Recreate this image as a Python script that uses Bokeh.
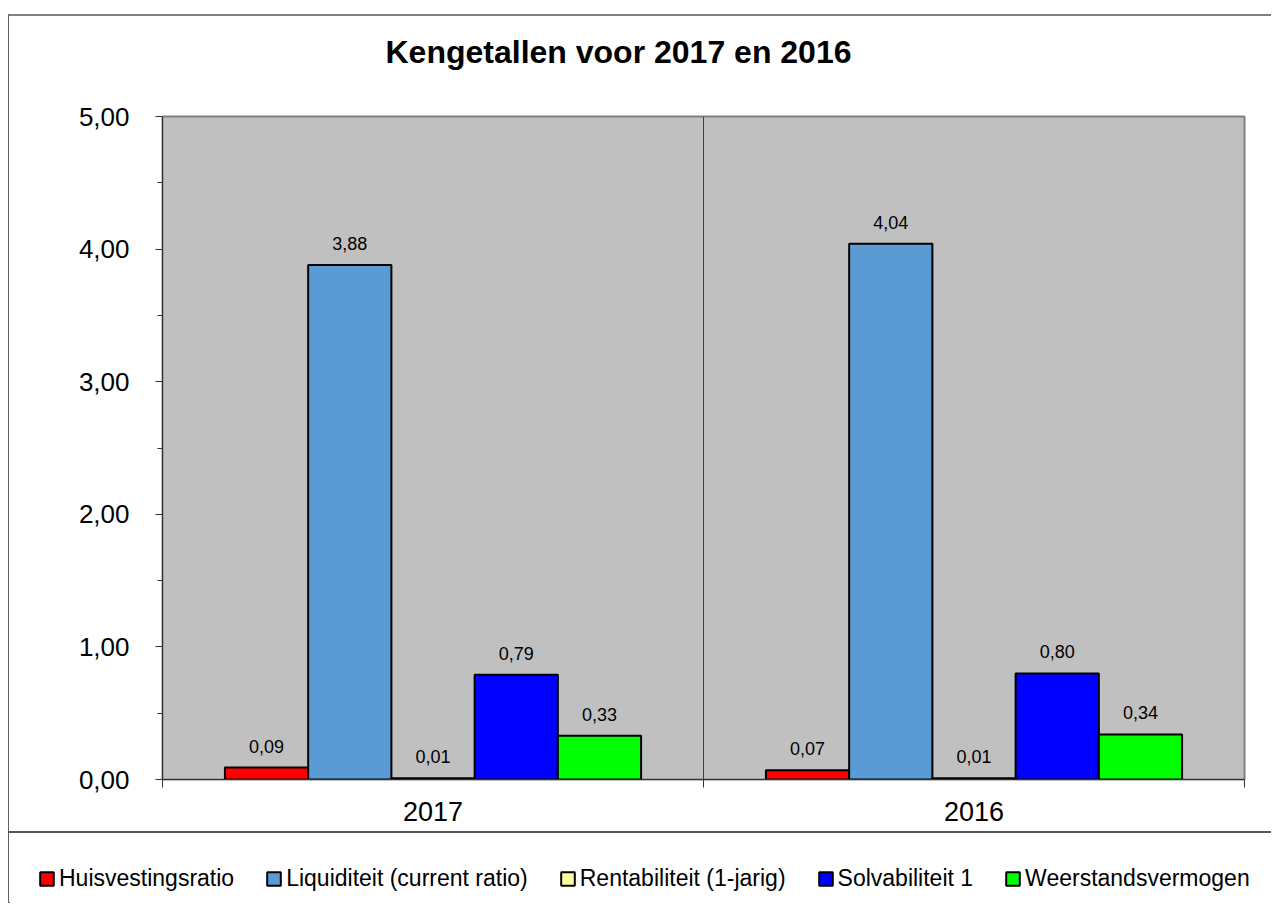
from bokeh.plotting import figure
from bokeh.models import Range1d, FixedTicker, Span, Legend, LegendItem, ColumnDataSource, Title
from bokeh.embed import file_html
from bokeh.resources import INLINE
from bokeh.core.properties import value

# ---- data ----
years = ["2017", "2016"]
series = ["Huisvestingsratio", "Liquiditeit (current ratio)", "Rentabiliteit (1-jarig)",
          "Solvabiliteit 1", "Weerstandsvermogen"]
colors = ["#FF0000", "#5B9BD5", "#FFFF99", "#0000FF", "#00FF00"]
huisvesting = [0.09, 0.07]
liquiditeit = [3.88, 4.04]
rentabiliteit = [0.01, 0.01]
solvabiliteit = [0.79, 0.80]
weerstand = [0.33, 0.34]
y_ticks = [0, 1, 2, 3, 4, 5]
y_tick_labels = ["0,00", "1,00", "2,00", "3,00", "4,00", "5,00"]
title_text = "Kengetallen voor 2017 en 2016"

values = [huisvesting, liquiditeit, rentabiliteit, solvabiliteit, weerstand]

FONT = "Liberation Sans"
n = len(series)
bw = 1.0 / (n + 1.5)
gap = 0.75 * bw

p = figure(width=1263, height=819, x_range=Range1d(0, len(years)), y_range=Range1d(0, 5),
           output_backend="svg", toolbar_location=None, title=None,
           min_border_left=153, min_border_right=28, min_border_top=100, min_border_bottom=56,
           background_fill_color="#C0C0C0", border_fill_color="white",
           outline_line_color="#808080", outline_line_width=2)
p.margin = (14, 0, 0, 8)
p.xgrid.visible = False
p.ygrid.visible = False

# spacer between frame and title, then the title itself
p.add_layout(Title(text=" ", text_font=FONT, text_font_size="20px", standoff=22), "above")
p.add_layout(Title(text=title_text, text_font=FONT, text_font_size="32px",
                   text_font_style="bold", text_color="black", align="left",
                   offset=223, standoff=2), "above")

# x axis: labels at category centres, ticks at boundaries
centres = [i + 0.5 for i in range(len(years))]
bounds = [i for i in range(len(years) + 1)]
p.xaxis.ticker = FixedTicker(ticks=centres, minor_ticks=bounds)
p.xaxis.major_label_overrides = {c: y for c, y in zip(centres, years)}
p.xaxis.major_tick_out = 0
p.xaxis.major_tick_in = 0
p.xaxis.minor_tick_out = 8
p.xaxis.minor_tick_in = 0
p.xaxis.minor_tick_line_color = "#333333"
p.xaxis.axis_line_color = "#333333"
p.xaxis.major_label_text_font = FONT
p.xaxis.major_label_text_font_size = "27px"
p.xaxis.major_label_text_color = "black"
p.xaxis.major_label_standoff = 14

# y axis
p.yaxis.ticker = FixedTicker(ticks=y_ticks, minor_ticks=[t + 0.5 for t in y_ticks[:-1]])
p.yaxis.major_label_overrides = {t: l for t, l in zip(y_ticks, y_tick_labels)}
p.yaxis.major_tick_out = 7
p.yaxis.major_tick_in = 0
p.yaxis.minor_tick_out = 5
p.yaxis.minor_tick_in = 0
p.yaxis.major_tick_line_color = "#333333"
p.yaxis.minor_tick_line_color = "#333333"
p.yaxis.axis_line_color = "#333333"
p.yaxis.major_label_text_font = FONT
p.yaxis.major_label_text_font_size = "26px"
p.yaxis.major_label_text_color = "black"
p.yaxis.major_label_standoff = 26

# category separator
p.add_layout(Span(location=1, dimension="height", line_color="#404040", line_width=1))

for k, (name, vals, col) in enumerate(zip(series, values, colors)):
    xs = [i + gap + bw * (k + 0.5) for i in range(len(years))]
    src = ColumnDataSource(dict(x=xs, top=vals,
                                lab=[f"{v:.2f}".replace(".", ",") for v in vals]))
    p.vbar(x="x", top="top", width=bw, bottom=0, source=src, fill_color=col,
           line_color="black", line_width=2)
    p.text(x="x", y="top", text="lab", source=src, text_align="center", text_baseline="bottom",
           y_offset=-15, text_font=value(FONT), text_font_size="18px", text_color="black")

p.styles = {"border-top": "2px solid #808080", "border-left": "1px solid #606060",
            "border-bottom": "2px solid #555555"}

# legend strip (separate root so its frame is not aligned with the chart)
p2 = figure(width=1263, height=70, x_range=Range1d(0, 1), y_range=Range1d(0, 1),
            output_backend="svg", toolbar_location=None, min_border=0,
            x_axis_location=None, y_axis_location=None, outline_line_color=None)
p2.margin = (0, 0, 0, 8)
p2.xgrid.visible = False
p2.ygrid.visible = False
items = []
for name, col in zip(series, colors):
    # legend proxy, placed outside the visible range
    r = p2.vbar(x=[-5], top=[0], width=0.1, fill_color=col, line_color="black", line_width=2)
    items.append(LegendItem(label=name, renderers=[r]))
legend = Legend(items=items, orientation="horizontal", location=(29, 11), padding=0, margin=0,
                spacing=31, label_standoff=4, glyph_width=17, glyph_height=17,
                label_text_font=FONT, label_text_font_size="23px", label_text_color="black",
                border_line_color=None, background_fill_alpha=0)
p2.add_layout(legend)
p2.styles = {"border-left": "1px solid #606060"}

open("out.html", "w").write(file_html([p, p2], INLINE))
